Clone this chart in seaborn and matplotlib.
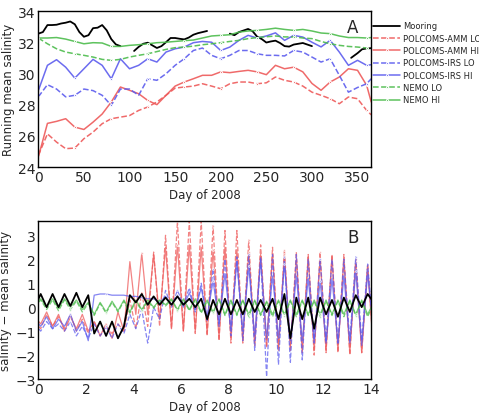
import numpy as np
import pandas as pd
import matplotlib
matplotlib.use("Agg")
import matplotlib.pyplot as plt
import seaborn as sns

sns.set_theme(style="white")
plt.rcParams['font.family'] = ['DejaVu Sans']
plt.rcParams['axes.edgecolor'] = 'black'
plt.rcParams['axes.linewidth'] = 1.0

# ---------- panel A: running mean salinity ----------
a_days = list(range(0, 361, 10)) + [365]

moor_days = [0, 5, 10, 15, 20, 25, 30, 35, 40, 45, 50, 55, 60, 65, 70, 75, 80, 85, 90, 97,
             105, 110, 115, 120, 125, 130, 135, 140, 145, 150, 155, 160, 165, 170, 175, 180, 185, 197,
             210, 215, 220, 225, 230, 235, 240, 245, 250, 255, 260, 265, 270, 275, 280, 285, 290, 295, 300, 320,
             343, 350, 355, 360, 365]
moor_sal = [32.55, 32.65, 33.1, 33.1, 33.12, 33.2, 33.25, 33.33, 33.15, 32.65, 32.35, 32.45, 32.9, 32.93, 33.1, 32.76, 32.2, 31.86, 31.75, np.nan,
            31.44, 31.7, 31.9, 31.97, 31.8, 31.63, 31.75, 32.0, 32.27, 32.27, 32.22, 32.18, 32.3, 32.48, 32.58, 32.65, 32.72, np.nan,
            32.55, 32.45, 32.65, 32.75, 32.85, 32.7, 32.35, 32.2, 31.98, 32.05, 32.1, 31.95, 31.75, 31.72, 31.85, 31.9, 31.95, 31.85, 31.75, np.nan,
            31.0, 31.3, 31.55, 31.6, 31.62]

amm_lo_a = [24.75, 26.13, 25.6, 25.18, 25.22, 25.82, 26.24, 26.78, 27.1, 27.2, 27.3, 27.63, 27.85, 28.17, 28.6, 29.06,
            29.13, 29.19, 29.34, 29.19, 29.02, 29.34, 29.45, 29.45, 29.34, 29.4, 29.77, 29.56, 29.45, 29.19, 28.8,
            28.6, 28.38, 28.06, 28.49, 28.38, 27.63, 27.35]
amm_hi_a = [24.64, 26.8, 26.93, 27.1, 26.56, 26.41, 26.88, 27.4, 28.17, 29.13, 28.92, 28.7, 28.27, 28.0, 28.6, 29.19,
            29.45, 29.66, 29.88, 29.88, 30.1, 30.05, 30.13, 30.2, 30.1, 29.92, 30.52, 30.3, 30.4, 30.1, 29.36,
            28.92, 29.45, 29.77, 30.3, 30.2, 29.24, 28.17]
irs_lo_a = [28.5, 29.28, 29.0, 28.5, 28.6, 29.0, 28.9, 28.6, 27.95, 29.0, 29.0, 28.6, 29.66, 29.56, 29.98, 30.52,
            30.94, 31.47, 31.63, 31.16, 30.94, 31.16, 31.47, 31.47, 31.26, 31.16, 31.16, 31.12, 31.47, 31.37, 31.05,
            30.73, 30.94, 29.88, 28.8, 29.1, 29.34, 29.66]
irs_hi_a = [28.9, 30.52, 30.88, 30.4, 29.7, 30.3, 30.9, 30.52, 29.66, 30.94, 30.3, 30.52, 30.94, 30.73, 31.37, 31.58,
            31.69, 31.97, 32.05, 32.0, 31.47, 31.69, 32.12, 32.44, 32.27, 32.4, 32.6, 32.12, 32.44, 32.33, 32.0,
            31.7, 32.12, 31.37, 30.52, 30.84, 30.52, 30.56]
nemo_lo_a = [32.27, 31.9, 31.58, 31.37, 31.26, 31.16, 31.05, 30.9, 30.84, 30.9, 31.05, 31.16, 31.26, 31.4, 31.54, 31.65,
             31.69, 31.75, 31.84, 31.9, 31.97, 32.05, 32.12, 32.23, 32.3, 32.35, 32.4, 32.34, 32.34, 32.27, 32.23,
             32.05, 31.9, 31.8, 31.73, 31.69, 31.63, 31.63]
nemo_hi_a = [32.27, 32.27, 32.3, 32.2, 32.05, 31.9, 31.97, 31.95, 31.73, 31.73, 31.8, 31.84, 31.9, 31.97, 32.0, 32.05,
             32.1, 32.14, 32.27, 32.4, 32.44, 32.48, 32.65, 32.72, 32.76, 32.82, 32.9, 32.82, 32.76, 32.82, 32.72,
             32.59, 32.55, 32.4, 32.3, 32.3, 32.27, 32.3]

# ---------- panel B: salinity anomaly, first 14 days ----------
b_days = [round(-0.15 + 0.25 * k, 2) for k in range(58)]

moor_b = [0.0, 0.55, 0.0, 0.55, 0.0, 0.55, 0.05, 0.6, 0.0, 0.5, -1.1, -0.6, -1.2, -0.6, -1.3, -0.8,
          0.5, 0.2, 0.55, 0.1, 0.45, 0.1, 0.4, 0.1, 0.45, 0.1, 0.35, 0.0, 0.35, -0.5, 0.3, -0.3,
          0.35, -0.3, 0.3, -0.3, 0.35, -0.2, 0.3, -0.2, 0.35, -0.5, 0.55, -1.3, 0.4, -0.5, 0.4, -0.9,
          0.4, -0.3, 0.3, -0.4, 0.4, -0.2, 0.5, 0.0, 0.55, 0.2]
amm_hi_b = [-0.4, -0.7, -0.2, -0.8, -0.3, -1.0, -0.4, -0.9, -0.3, -1.0, -0.6, -1.2, -0.7, -1.3, -0.2, -1.0,
            1.9, -0.3, 2.25, -0.3, 2.2, -0.5, 2.5, -0.9, 2.6, -1.0, 2.6, -1.0, 2.5, -1.1, 2.4, -1.3,
            2.5, -1.3, 2.4, -1.4, 2.3, -1.5, 2.2, -1.6, 2.2, -1.7, 2.2, -1.7, 2.0, -1.8, 2.1, -1.8,
            2.0, -1.8, 2.1, -1.8, 2.0, -1.9, 1.9, -1.9, 1.7, -1.9]
amm_lo_b = [-0.6, -0.9, -0.3, -0.8, -0.4, -0.9, -0.3, -1.0, -0.5, -1.1, -0.6, -1.2, -0.8, -1.1, -0.7, -1.0,
            0.3, -0.9, 0.6, -0.8, 2.3, -0.8, 3.0, -0.9, 3.6, -1.0, 3.6, -1.1, 3.6, -1.2, 3.4, -1.4,
            3.2, -1.5, 3.2, -1.5, 2.8, -1.6, 2.6, -1.7, 2.5, -1.8, 2.4, -1.8, 2.3, -1.9, 2.2, -2.0,
            2.3, -1.9, 2.2, -1.9, 2.2, -2.0, 2.0, -1.9, 1.8, -1.8]
irs_hi_b = [-0.5, -0.8, -0.4, -0.9, -0.5, -0.8, -0.3, -1.0, -0.6, -1.4, 0.5, 0.55, 0.55, 0.5, 0.5, 0.5,
            0.45, 0.45, 0.4, 0.35, 0.35, 0.2, 0.45, 0.1, 0.5, 0.0, 0.6, -0.1, 0.8, -0.4, 1.1, -0.7,
            1.4, -0.9, 1.9, -1.0, 1.7, -1.2, 2.0, -1.3, 1.3, -1.3, 1.8, -1.4, 1.3, -1.4, 1.2, -1.4,
            1.1, -1.5, 1.2, -1.5, 1.3, -1.5, 1.5, -1.6, 1.4, -1.0]
irs_lo_b = [-0.7, -1.0, -0.6, -0.9, -0.7, -1.0, -0.6, -1.2, -0.8, -1.3, -0.7, -1.2, -0.8, -1.3, -0.7, -1.1,
            -0.3, -0.9, -0.1, -1.5, 0.0, -0.5, 0.7, 0.0, 0.7, 0.1, 0.8, -0.2, 1.0, -0.6, 1.6, -0.8,
            2.0, -1.2, 2.1, -1.4, 2.2, -1.8, 2.1, -2.9, 2.2, -2.4, 2.1, -2.3, 2.2, -2.2, 2.0, -1.5,
            2.0, -1.4, 2.0, -1.5, 2.0, -1.4, 2.1, -1.4, 1.8, -1.2]
nemo_lo_b = [0.0, 0.3, -0.1, 0.3, -0.15, 0.3, -0.1, 0.25, -0.2, 0.15, -0.35, 0.15, -0.25, 0.2, -0.2, 0.25,
             -0.25, 0.25, -0.15, 0.25, -0.05, 0.3, 0.05, 0.3, -0.15, 0.3, -0.15, 0.3, -0.25, 0.25, -0.25, 0.3,
             -0.35, 0.25, -0.35, 0.3, -0.4, 0.25, -0.35, 0.2, -0.4, 0.25, -0.35, 0.25, -0.4, 0.25, -0.35, 0.25,
             -0.4, 0.25, -0.35, 0.25, -0.4, 0.25, -0.35, 0.25, -0.4, 0.15]
nemo_hi_b = [0.1, 0.35, 0.0, 0.35, -0.05, 0.35, 0.0, 0.3, -0.1, 0.2, -0.3, 0.2, -0.2, 0.25, -0.15, 0.3,
             -0.2, 0.3, -0.1, 0.3, 0.0, 0.3, 0.1, 0.35, -0.1, 0.35, -0.1, 0.35, -0.2, 0.3, -0.2, 0.35,
             -0.3, 0.3, -0.3, 0.3, -0.3, 0.3, -0.3, 0.25, -0.3, 0.3, -0.3, 0.3, -0.3, 0.3, -0.3, 0.3,
             -0.3, 0.3, -0.3, 0.3, -0.3, 0.3, -0.3, 0.3, -0.3, 0.2]

RED = "#ee5a5a"
BLUE = "#5c5cee"
GREEN = "#4cbc4c"

models = [
    ("POLCOMS-AMM LO", amm_lo_a, amm_lo_b, RED, "--"),
    ("POLCOMS-AMM HI", amm_hi_a, amm_hi_b, RED, "-"),
    ("POLCOMS-IRS LO", irs_lo_a, irs_lo_b, BLUE, "--"),
    ("POLCOMS-IRS HI", irs_hi_a, irs_hi_b, BLUE, "-"),
    ("NEMO LO", nemo_lo_a, nemo_lo_b, GREEN, "--"),
    ("NEMO HI", nemo_hi_a, nemo_hi_b, GREEN, "-"),
]

fig = plt.figure(figsize=(4.79, 4.14), dpi=100)
axA = fig.add_axes([0.080, 0.594, 0.695, 0.377])
axB = fig.add_axes([0.080, 0.082, 0.695, 0.382])

# --- Panel A ---
moor = pd.DataFrame({"day": moor_days, "sal": moor_sal})
moor["seg"] = moor["sal"].isna().cumsum()
moor = moor.dropna()
for i, (seg, part) in enumerate(moor.groupby("seg")):
    sns.lineplot(data=part, x="day", y="sal", ax=axA, color="black", lw=1.3,
                 label="Mooring" if i == 0 else None)

for name, ya, yb, col, ls in models:
    sns.lineplot(x=a_days, y=ya, ax=axA, color=col, lw=1.1, linestyle=ls,
                 marker=".", markersize=3, markevery=4, alpha=0.9, label=name)

axA.set_xlim(0, 365)
axA.set_ylim(24, 34)
axA.set_xticks(range(0, 351, 50))
axA.set_yticks(range(24, 35, 2))
axA.set_xlabel("Day of 2008", fontsize=8.5, labelpad=3)
axA.set_ylabel("Running mean salinity", fontsize=8.5, labelpad=2)
axA.tick_params(labelsize=10, length=0, pad=2)
axA.text(0.945, 0.9, "A", transform=axA.transAxes, fontsize=12, ha="center", va="center")
axA.legend(loc="upper left", bbox_to_anchor=(0.99, 0.965), frameon=False, fontsize=6,
           handlelength=3.3, handletextpad=0.3, labelspacing=0.4, borderaxespad=0.2)

# --- Panel B ---
sns.lineplot(x=b_days, y=moor_b, ax=axB, color="black", lw=1.3, zorder=5)
for name, ya, yb, col, ls in models:
    sns.lineplot(x=b_days, y=yb, ax=axB, color=col, lw=0.9, linestyle=ls,
                 marker=".", markersize=2.5, markevery=6, alpha=0.75)

axB.set_xlim(0, 14)
axB.set_ylim(-3, 3.6)
axB.set_xticks(range(0, 15, 2))
axB.set_yticks(range(-3, 4))
axB.set_xlabel("Day of 2008", fontsize=8.5, labelpad=3)
axB.set_ylabel("salinity \u2212 mean salinity", fontsize=8.5, labelpad=2)
axB.tick_params(labelsize=10, length=0, pad=2)
axB.text(0.945, 0.9, "B", transform=axB.transAxes, fontsize=12, ha="center", va="center")

fig.savefig("out.png", dpi=100)
